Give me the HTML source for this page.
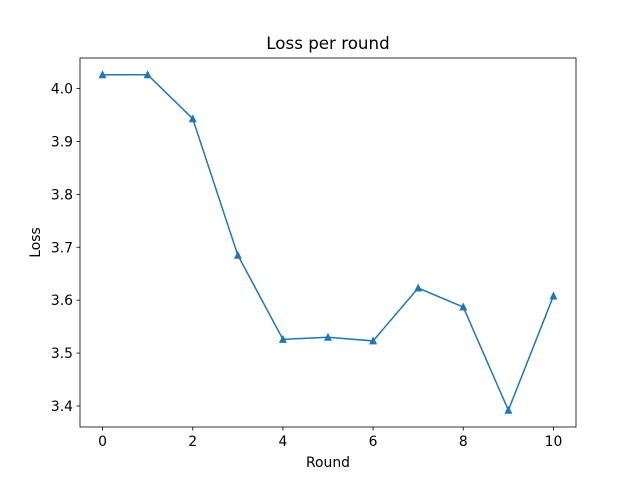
<!DOCTYPE html>
<html><head><meta charset="utf-8"><style>body{margin:0;background:#fff}svg{display:block;font-family:"DejaVu Sans","Liberation Sans",sans-serif}</style></head>
<body>
<svg id="chart" width="640" height="480" viewBox="0 0 640 480">
<rect width="640" height="480" fill="#fff"/>
<text x="328" y="49" text-anchor="middle" font-size="16.7">Loss per round</text>
<g id="plot"></g>
<rect x="80" y="58" width="496" height="369" fill="none" stroke="#000" stroke-width="0.8"/>
<text x="328" y="467" text-anchor="middle" font-size="13.9">Round</text>
<text transform="translate(40,242.5) rotate(-90)" text-anchor="middle" font-size="13.9">Loss</text>
</svg>
<script>
const rounds = [0,1,2,3,4,5,6,7,8,9,10];
const losses = [4.026,4.026,3.943,3.685,3.526,3.530,3.523,3.623,3.587,3.392,3.608];
const xTicks = [0,2,4,6,8,10];
const yTicks = [3.4,3.5,3.6,3.7,3.8,3.9,4.0];
const L=80,R=576,T=58,B=427;
const xmin=Math.min(...rounds),xmax=Math.max(...rounds),xp=(xmax-xmin)*0.05;
const ymin=Math.min(...losses),ymax=Math.max(...losses),yp=(ymax-ymin)*0.05;
const sx=v=>L+(v-(xmin-xp))/((xmax+xp)-(xmin-xp))*(R-L);
const sy=v=>B-(v-(ymin-yp))/((ymax+yp)-(ymin-yp))*(B-T);
const NS="http://www.w3.org/2000/svg";
const g=document.getElementById('plot');
function mk(t,a){const e=document.createElementNS(NS,t);for(const k in a)e.setAttribute(k,a[k]);g.appendChild(e);return e;}
xTicks.forEach(v=>{
  const l=mk('line',{x1:sx(v),x2:sx(v),y1:B,y2:B+3.5,stroke:'#000','stroke-width':0.8});
  
  
  const t=mk('text',{x:sx(v),y:B+19,'text-anchor':'middle','font-size':13.9});
  t.textContent=v;
  
  
});
yTicks.forEach(v=>{
  const l=mk('line',{x1:L-3.5,x2:L,y1:sy(v),y2:sy(v),stroke:'#000','stroke-width':0.8});
  
  
  const t=mk('text',{x:L-7,y:sy(v)+5,'text-anchor':'end','font-size':13.9});
  t.textContent=v.toFixed(1);
  
  
});
const line=mk('polyline',{points:rounds.map((r,i)=>sx(r)+','+sy(losses[i])).join(' '),fill:'none',stroke:'#1f77b4','stroke-width':1.5});


rounds.forEach((r,i)=>{
  const x=sx(r),y=sy(losses[i]);
  const p=mk('polygon',{points:`${x},${y-4.5} ${x-4},${y+3.5} ${x+4},${y+3.5}`,fill:'#1f77b4'});
  
  
});
</script>
</body></html>
